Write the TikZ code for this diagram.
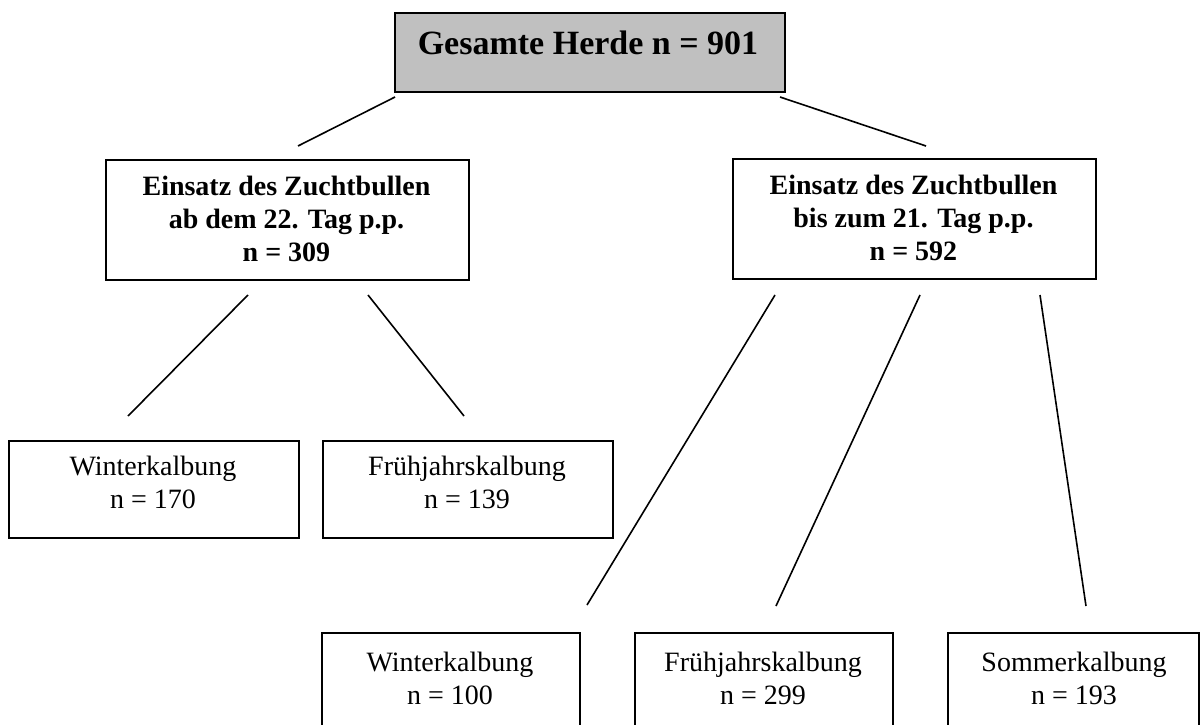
\documentclass[tikz,border=0pt]{standalone}
\usepackage{fontspec}
\setmainfont{Liberation Serif}
\definecolor{boxgray}{HTML}{C0C0C0}
\begin{document}
\begin{tikzpicture}[x=1pt,y=-1pt,
  box/.style={draw=black, line width=1.9pt, inner sep=0pt, anchor=north west},
  conn/.style={draw=black, line width=1.6pt},
  bigtxt/.style={font=\fontsize{34}{40}\selectfont\bfseries, inner sep=0pt, anchor=north},
  midtxt/.style={font=\fontsize{28}{33}\selectfont\bfseries, align=center, inner sep=0pt, anchor=north},
  lowtxt/.style={font=\fontsize{28}{33}\selectfont, align=center, inner sep=0pt, anchor=north}]
\useasboundingbox (0,0) rectangle (1200,725);
\clip (0,0) rectangle (1200,725);
% boxes
\node[box, fill=boxgray, minimum width=390pt, minimum height=79pt] (top) at (394,12) {};
\node[bigtxt] (toptext) at (588,31) {Gesamte Herde n = 901};
\node[box, minimum width=363pt, minimum height=120pt] (midL) at (105,159) {};
\node[midtxt] (midLtext) at (286.5,176) {Einsatz des Zuchtbullen\\ab dem 22. Tag p.p.\\n = 309};
\node[box, minimum width=363pt, minimum height=120pt] (midR) at (732,158) {};
\node[midtxt] (midRtext) at (913.5,175) {Einsatz des Zuchtbullen\\bis zum 21. Tag p.p.\\n = 592};
\node[box, minimum width=290pt, minimum height=97pt] (lowA) at (8,440) {};
\node[lowtxt] (lowAtext) at (153,456) {Winterkalbung\\n = 170};
\node[box, minimum width=290pt, minimum height=97pt] (lowB) at (322,440) {};
\node[lowtxt] (lowBtext) at (467,456) {Frühjahrskalbung\\n = 139};
\node[box, minimum width=258pt, minimum height=120pt] (lowC) at (321,632) {};
\node[lowtxt] (lowCtext) at (450,652) {Winterkalbung\\n = 100};
\node[box, minimum width=258pt, minimum height=120pt] (lowD) at (634,632) {};
\node[lowtxt] (lowDtext) at (763,652) {Frühjahrskalbung\\n = 299};
\node[box, minimum width=251pt, minimum height=120pt] (lowE) at (947,632) {};
\node[lowtxt] (lowEtext) at (1074,652) {Sommerkalbung\\n = 193};
% connector end points
\coordinate (c1a) at (395,97);   \coordinate (c1b) at (298,146);
\coordinate (c2a) at (780,97);   \coordinate (c2b) at (926,146);
\coordinate (c3a) at (248,295);  \coordinate (c3b) at (128,416);
\coordinate (c4a) at (368,295);  \coordinate (c4b) at (464,416);
\coordinate (c5a) at (775,295);  \coordinate (c5b) at (587,605);
\coordinate (c6a) at (920,295);  \coordinate (c6b) at (776,606);
\coordinate (c7a) at (1040,295); \coordinate (c7b) at (1086,606);
\draw[conn] (c1a) -- (c1b);
\draw[conn] (c2a) -- (c2b);
\draw[conn] (c3a) -- (c3b);
\draw[conn] (c4a) -- (c4b);
\draw[conn] (c5a) -- (c5b);
\draw[conn] (c6a) -- (c6b);
\draw[conn] (c7a) -- (c7b);
\end{tikzpicture}
\end{document}
